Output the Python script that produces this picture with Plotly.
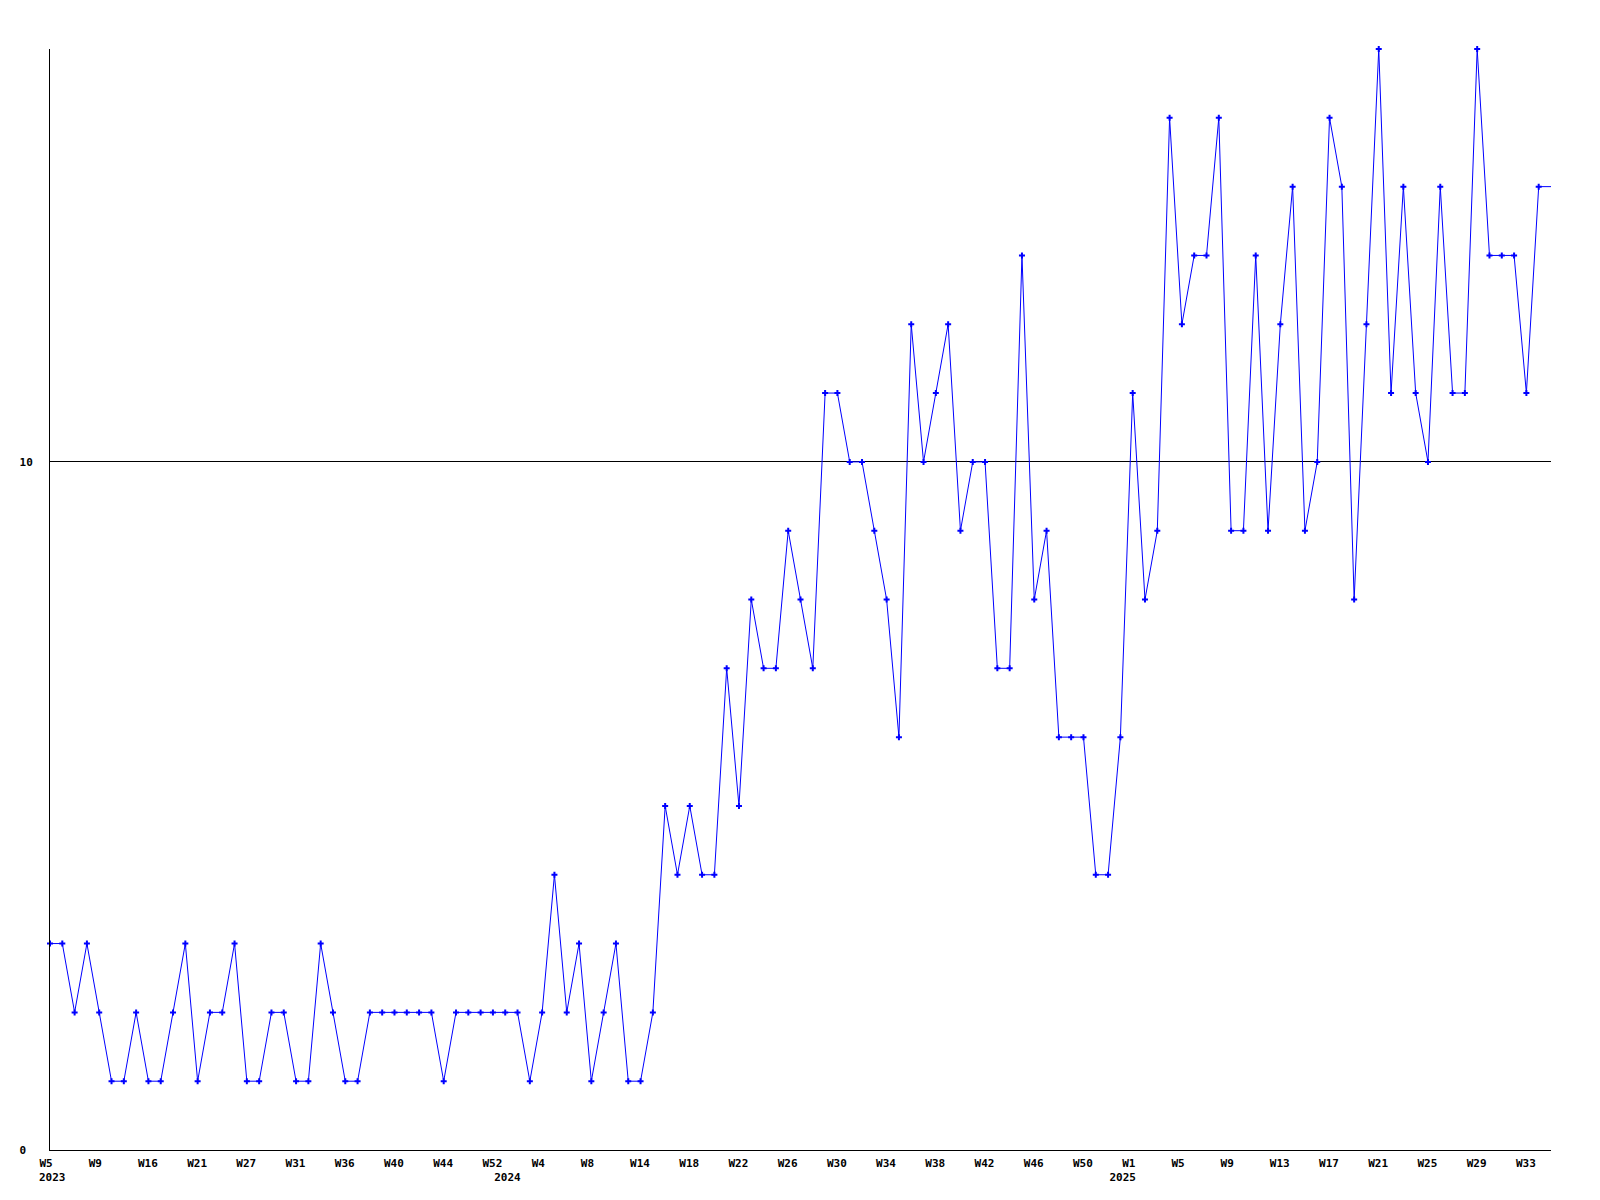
import plotly.graph_objects as go

# Weekly counts (one value per reported week, evenly spaced)
values = [3, 3, 2, 3, 2, 1, 1, 2, 1, 1,
          2, 3, 1, 2, 2, 3, 1, 1, 2, 2,
          1, 1, 3, 2, 1, 1, 2, 2, 2, 2,
          2, 2, 1, 2, 2, 2, 2, 2, 2, 1,
          2, 4, 2, 3, 1, 2, 3, 1, 1, 2,
          5, 4, 5, 4, 4, 7, 5, 8, 7, 7,
          9, 8, 7, 11, 11, 10, 10, 9, 8, 6,
          12, 10, 11, 12, 9, 10, 10, 7, 7, 13,
          8, 9, 6, 6, 6, 4, 4, 6, 11, 8,
          9, 15, 12, 13, 13, 15, 9, 9, 13, 9,
          12, 14, 9, 10, 15, 14, 8, 12, 16, 11,
          14, 11, 10, 14, 11, 11, 16, 13, 13, 13,
          11, 14, 14]

# Week tick labels, one every 4 reported weeks
tick_labels = ["W5", "W9", "W16", "W21", "W27", "W31", "W36", "W40",
               "W44", "W52", "W4", "W8", "W14", "W18", "W22", "W26",
               "W30", "W34", "W38", "W42", "W46", "W50", "W1", "W5",
               "W9", "W13", "W17", "W21", "W25", "W29", "W33"]
tick_step = 4

# Year labels and the index of the first reported week of each year
years = ["2023", "2024", "2025"]
year_start_idx = [0, 37, 87]

y_ticks = [0, 10]
y_tick_text = ["0\u00a0", "10"]

x_idx = list(range(len(values)))
tick_vals = [i * tick_step for i in range(len(tick_labels))]

font = dict(family="DejaVu Sans Mono", size=11, color="black", weight="bold")

fig = go.Figure()
fig.add_trace(go.Scatter(x=x_idx, y=values, mode="lines",
                         line=dict(color="#0000ff", width=1),
                         hoverinfo="skip", showlegend=False))
fig.add_trace(go.Scatter(x=x_idx[:-1], y=values[:-1], mode="markers",
                         xaxis="x2", cliponaxis=False,
                         marker=dict(symbol="cross", size=5, color="#0000ff",
                                     line=dict(width=0)),
                         showlegend=False))

fig.update_layout(
    width=1584, height=1184,
    margin=dict(l=42, r=41, t=41, b=42, autoexpand=False),
    paper_bgcolor="white", plot_bgcolor="white",
    font=font,
    showlegend=False,
    xaxis=dict(range=[0, len(values) - 1], tickvals=tick_vals, ticktext=tick_labels,
               showgrid=False, zeroline=False, showline=True, linecolor="black",
               linewidth=1, ticks="", tickfont=font, automargin=False,
               ticklabelposition="outside right", ticklabelshift=-11,
               ticklabelstandoff=3),
    xaxis2=dict(overlaying="x", matches="x", side="bottom",
                range=[0, len(values) - 1], tickvals=year_start_idx, ticktext=years,
                showgrid=False, zeroline=False, showline=False, ticks="",
                tickfont=font, automargin=False,
                ticklabelposition="outside right", ticklabelshift=-11,
                ticklabelstandoff=19),
    yaxis=dict(range=[0, 16], tickvals=y_ticks, ticktext=y_tick_text,
               showgrid=True, gridcolor="black", gridwidth=1, zeroline=False,
               showline=True, linecolor="black", linewidth=1, ticks="",
               tickfont=font, ticklabelstandoff=14, automargin=False),
)

fig.write_html("out.html")
